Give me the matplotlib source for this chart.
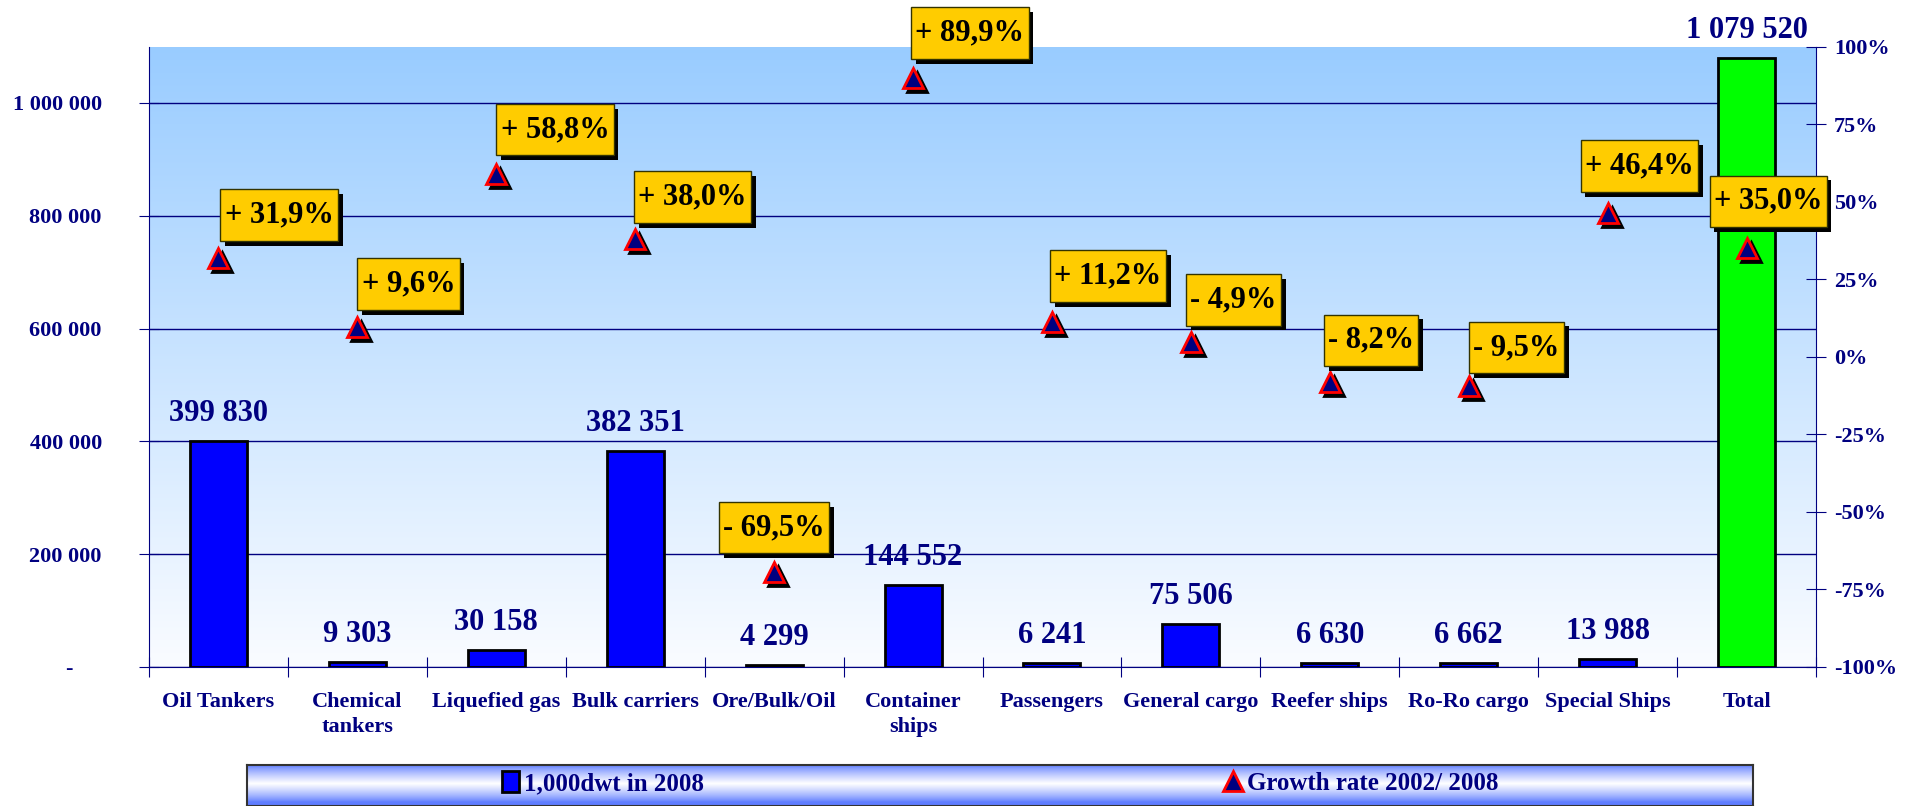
import numpy as np
import matplotlib.pyplot as plt
from matplotlib import patheffects
from matplotlib.path import Path
from matplotlib.transforms import offset_copy

plt.rcParams['font.family'] = ['Liberation Serif', 'DejaVu Serif']
plt.rcParams['font.weight'] = 'bold'

# data
categories = ['Oil Tankers', 'Chemical\ntankers', 'Liquefied gas', 'Bulk carriers',
              'Ore/Bulk/Oil', 'Container\nships', 'Passengers', 'General cargo',
              'Reefer ships', 'Ro-Ro cargo', 'Special Ships', 'Total']
dwt_2008 = [399830, 9303, 30158, 382351, 4299, 144552, 6241, 75506, 6630, 6662, 13988, 1079520]
growth = [31.9, 9.6, 58.8, 38.0, -69.5, 89.9, 11.2, 4.9, -8.2, -9.5, 46.4, 35.0]
growth_labels = ['+ 31,9%', '+ 9,6%', '+ 58,8%', '+ 38,0%', '- 69,5%', '+ 89,9%',
                 '+ 11,2%', '- 4,9%', '- 8,2%', '- 9,5%', '+ 46,4%', '+ 35,0%']
left_ticks = [0, 200000, 400000, 600000, 800000, 1000000]
right_ticks = [-100, -75, -50, -25, 0, 25, 50, 75, 100]
legend_labels = ['1,000dwt in 2008', 'Growth rate 2002/ 2008']

# where each yellow box sits relative to its triangle (pixels)
box_dx = [2, 0, 0, -1, -55, -2, -2, -5, -6, 0, -27, -37]
box_dy = [17, 17, 19, 16, 19, 19, 20, 16, 16, 13, 21, 21]

navy = '#000080'
PADX, PADY = 0.14, 0.37


def spaced(v):
    return f'{v:,}'.replace(',', ' ')


def tall_box(x0, y0, width, height, mutation_size):
    # square box with more room above and below than at the sides
    px, py = PADX * mutation_size, PADY * mutation_size
    x0, y0 = x0 - px, y0 - py
    x1, y1 = x0 + width + 2 * px, y0 + height + 2 * py
    return Path([(x0, y0), (x1, y0), (x1, y1), (x0, y1), (x0, y0)], closed=True)


fig = plt.figure(figsize=(19.19, 8.06), dpi=100)
rect = [149 / 1919, 1 - 667 / 806, (1816 - 149) / 1919, (667 - 46.5) / 806]

# gradient background of the plot area
bg = fig.add_axes(rect, zorder=-1)
top = np.array([153, 204, 255]) / 255
bot = np.array([250, 252, 255]) / 255
f = np.linspace(0, 1, 256)[:, None]
grad = (top * (1 - f) + bot * f)[:, None, :]
bg.imshow(grad, extent=[0, 1, 0, 1], aspect='auto')
bg.axis('off')

ax = fig.add_axes(rect)
ax.patch.set_alpha(0)
x = np.arange(len(categories))
colors = ['#0000FF'] * (len(categories) - 1) + ['#00FF00']
bars = ax.bar(x, dwt_2008, width=0.41, color=colors, edgecolor='black', linewidth=2, zorder=3)
for xi, v in zip(x, dwt_2008):
    ax.annotate(spaced(v), (xi, v), xytext=(0, 20), textcoords='offset pixels',
                ha='center', va='baseline', fontsize=22, color=navy,
                annotation_clip=False, zorder=4)

ax.set_xlim(-0.5, len(categories) - 0.5)
ax.set_ylim(0, 1100000)
ax.set_yticks(left_ticks)
ax.set_yticklabels(['-     '] + [spaced(t) for t in left_ticks[1:]])
ax.yaxis.grid(True, color=navy, lw=1)
ax.set_axisbelow(True)
ax.set_xticks(np.arange(-0.5, len(categories), 1))
ax.set_xticklabels([])
ax.set_xticks(x, minor=True)
ax.set_xticklabels(categories, minor=True, fontsize=16, color=navy, linespacing=1.35)
ax.tick_params(axis='x', which='major', direction='inout', length=14, color=navy)
ax.tick_params(axis='x', which='minor', length=0, pad=18)
ax.tick_params(axis='y', direction='inout', length=14, color=navy, labelsize=16,
               labelcolor=navy, pad=27)
for s in ['left', 'bottom']:
    ax.spines[s].set_color(navy)
ax.spines['top'].set_visible(False)
ax.spines['right'].set_visible(False)

ax2 = ax.twinx()
ax2.set_ylim(-100, 100)
ax2.set_yticks(right_ticks)
ax2.set_yticklabels([f'{t}%' for t in right_ticks])
ax2.tick_params(axis='y', direction='inout', length=14, color=navy, labelsize=16,
                labelcolor=navy, pad=6)
ax2.spines['right'].set_color(navy)
ax2.spines['top'].set_visible(False)
ax2.spines['left'].set_visible(False)
ax2.spines['bottom'].set_visible(False)

shadow = offset_copy(ax2.transData, fig=fig, x=4, y=-4, units='dots')
ax2.plot(x, growth, ls='none', marker='^', ms=14, mfc='black', mec='black', mew=2,
         transform=shadow, zorder=4)
tri, = ax2.plot(x, growth, ls='none', marker='^', ms=14, mfc=navy, mec='red', mew=2, zorder=5)

fs_px = 22 * 100 / 72
for xi, g, lab, dx, dy in zip(x, growth, growth_labels, box_dx, box_dy):
    t = ax2.annotate(lab, (xi, g), xytext=(dx + PADX * fs_px, dy + PADY * fs_px),
                     textcoords='offset pixels', ha='left', va='bottom', fontsize=22,
                     color='black',
                     bbox=dict(boxstyle=tall_box, fc='#FFCC00', ec='#333300', lw=1),
                     annotation_clip=False, zorder=6)
    t.get_bbox_patch().set_path_effects([
        patheffects.SimplePatchShadow(offset=(3.5, -3.5), shadow_rgbFace='black', alpha=1.0),
        patheffects.Normal()])

# legend strip at the bottom
lax = fig.add_axes([247 / 1919, 0, (1753 - 247) / 1919, 41 / 806])
edge = np.array([95, 125, 255]) / 255
white = np.array([255, 255, 255]) / 255
h = np.linspace(0, 1, 128)
w = np.clip(1 - np.abs(h - 0.45) / 0.45, 0, 1) ** 0.8
lgrad = (edge * (1 - w[:, None]) + white * w[:, None])[:, None, :]
lax.imshow(lgrad, extent=[0, 1, 0, 1], aspect='auto')
lax.set_xlim(0, 1)
lax.set_ylim(0, 1)
lax.set_xticks([])
lax.set_yticks([])
for s in lax.spines.values():
    s.set_color('#333333')
    s.set_linewidth(1.5)
leg = lax.legend([bars, tri], legend_labels, loc='center', bbox_to_anchor=(0.5, 0.55),
                 ncol=2, frameon=False, columnspacing=20.8, handlelength=0.7,
                 handleheight=0.9, handletextpad=0.2, fontsize=18)
for txt in leg.get_texts():
    txt.set_color(navy)

fig.savefig('out.png', dpi=100)
